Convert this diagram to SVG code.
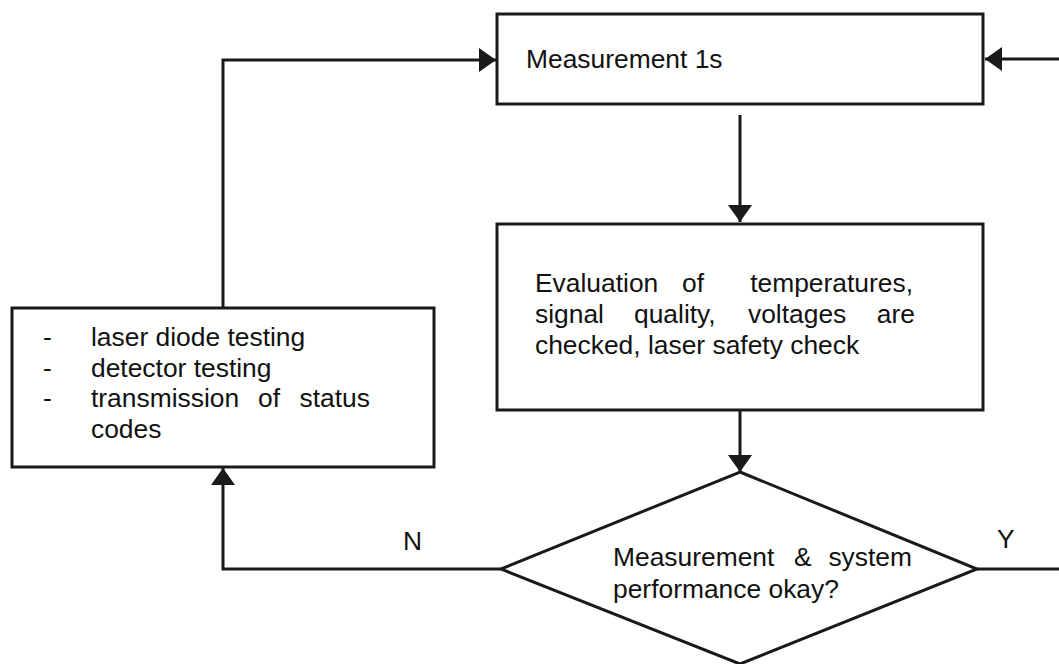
<svg xmlns="http://www.w3.org/2000/svg" width="1059" height="664" viewBox="0 0 1059 664">
  <style>
    .box { fill: #ffffff; stroke: #1a1a1a; stroke-width: 3; }
    .edge { fill: none; stroke: #1a1a1a; stroke-width: 3; }
    .t { font-family: "Liberation Sans", Arial, sans-serif; font-size: 26.4px; fill: #111111; }
    .e { text-anchor: end; }
  </style>
  <defs>
    <marker id="arrow" viewBox="0 0 17 24" refX="17" refY="12" markerWidth="17" markerHeight="24" markerUnits="userSpaceOnUse" orient="auto">
      <path d="M0,0 L17,12 L0,24 Z" fill="#1a1a1a"/>
    </marker>
  </defs>
  <rect width="1059" height="664" fill="#ffffff"/>

  <g id="connectors">
    <path class="edge" d="M740,115 V222" marker-end="url(#arrow)"/>
    <path class="edge" d="M740,410 V472" marker-end="url(#arrow)"/>
    <path class="edge" d="M501,569 H223 V468" marker-end="url(#arrow)"/>
    <path class="edge" d="M223,308 V60 H496" marker-end="url(#arrow)"/>
    <path class="edge" d="M977,569 H1064 V59 H985" marker-end="url(#arrow)"/>
    <text class="t" x="403" y="550">N</text>
    <text class="t" x="997" y="548">Y</text>
  </g>

  <g id="measurement">
    <rect class="box" x="497" y="14" width="486" height="90"/>
    <text class="t" x="526" y="68">Measurement 1s</text>
  </g>

  <g id="evaluation">
    <rect class="box" x="497" y="224" width="486" height="186"/>
    <text class="t" x="535" y="292">Evaluation</text>
    <text class="t" x="682" y="292">of</text>
    <text class="t e" x="913" y="292">temperatures,</text>
    <text class="t" x="535" y="323">signal</text>
    <text class="t" x="634" y="323">quality,</text>
    <text class="t" x="748" y="323">voltages</text>
    <text class="t e" x="915" y="323">are</text>
    <text class="t" x="535" y="354">checked, laser safety check</text>
  </g>

  <g id="decision">
    <polygon class="box" points="740,472 977,569 740,664 501,569"/>
    <text class="t" x="613" y="566">Measurement</text>
    <text class="t" x="794" y="566">&amp;</text>
    <text class="t e" x="912" y="566">system</text>
    <text class="t" x="613" y="598">performance okay?</text>
  </g>

  <g id="testing">
    <rect class="box" x="12" y="308" width="422" height="159"/>
    <text class="t" x="43" y="346">-</text>
    <text class="t" x="91" y="346">laser diode testing</text>
    <text class="t" x="43" y="376.5">-</text>
    <text class="t" x="91" y="376.5">detector testing</text>
    <text class="t" x="43" y="407">-</text>
    <text class="t" x="91" y="407">transmission</text>
    <text class="t" x="258" y="407">of</text>
    <text class="t e" x="370" y="407">status</text>
    <text class="t" x="91" y="437.5">codes</text>
  </g>
</svg>
